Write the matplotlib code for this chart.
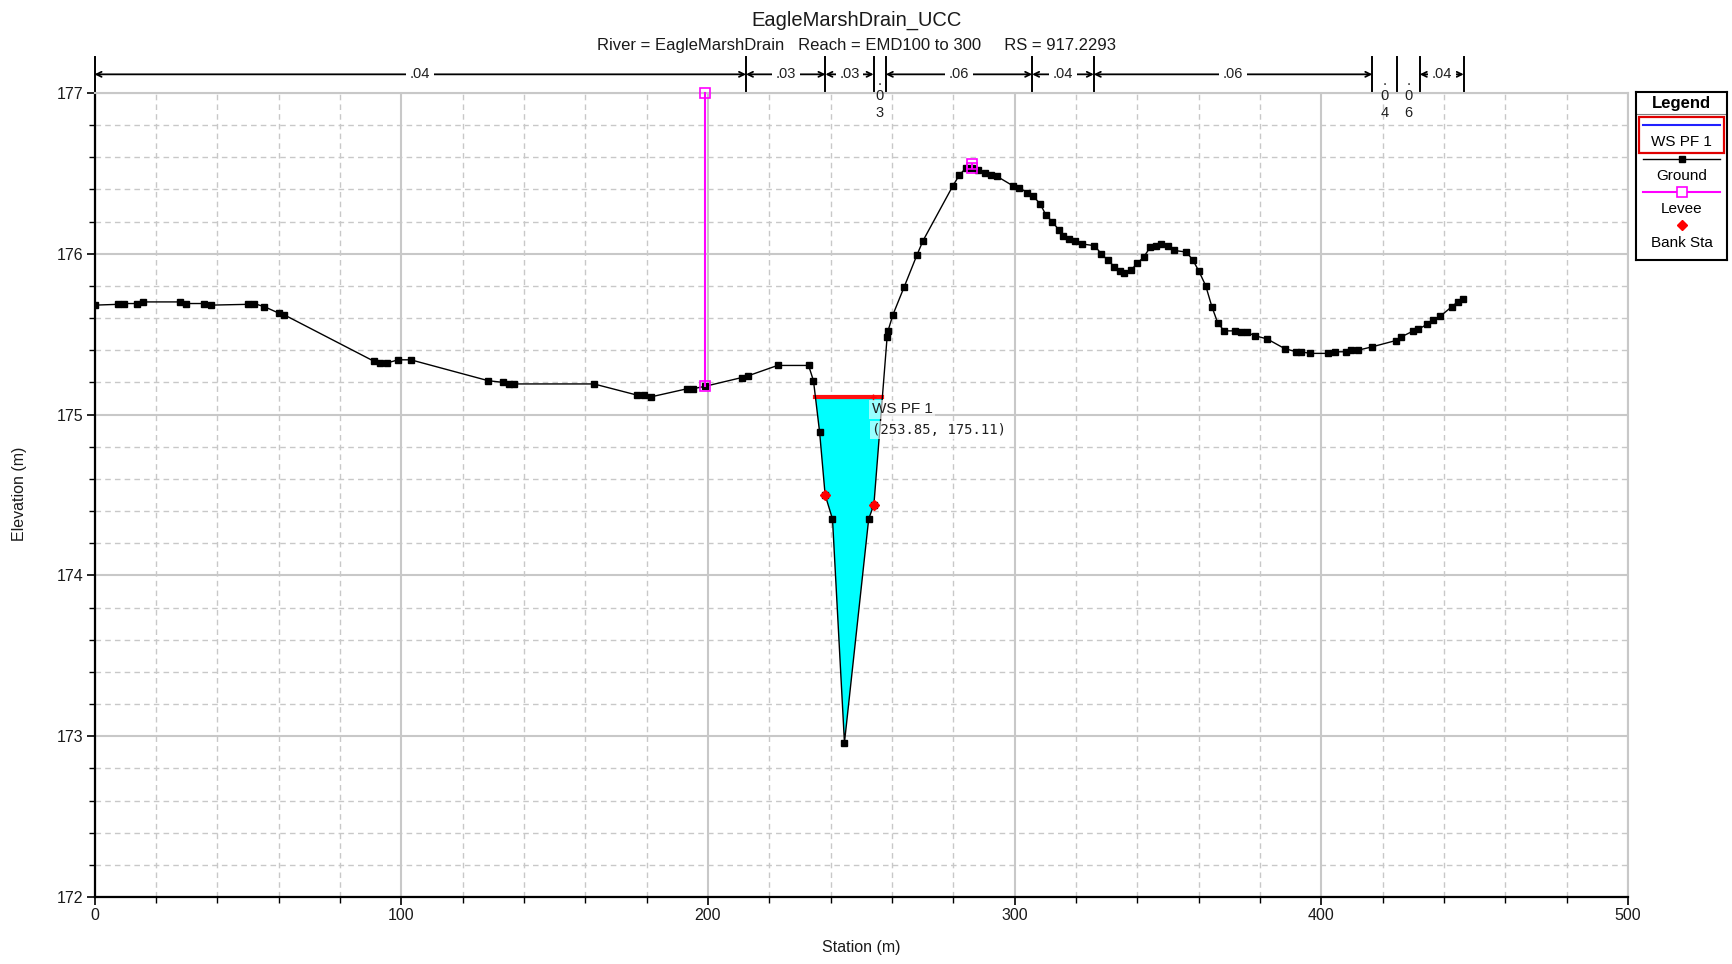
import numpy as np
import matplotlib.pyplot as plt
from matplotlib.patches import Rectangle
from matplotlib.ticker import MultipleLocator

plt.rcParams['font.family'] = ['Liberation Sans', 'DejaVu Sans']

# cross section at RS 917.2293
ground_sta = [0.0, 7.7, 9.5, 13.8, 15.8, 27.7, 29.7, 35.8, 37.8, 50.0, 52.0, 55.4,
              60.1, 61.8, 91.2, 93.2, 95.3, 99.0, 103.1, 128.4, 133.1, 135.1, 136.9,
              162.8, 177.0, 179.0, 181.5, 193.2, 195.0, 199.0, 211.1, 213.0, 222.7,
              232.8, 234.4, 236.4, 238.2, 240.6, 244.5, 252.4, 254.1, 258.4, 258.7,
              260.3, 263.9, 268.1, 270.1, 279.8, 282.0, 284.0, 286.1, 288.0, 290.2,
              292.3, 294.3, 299.6, 301.5, 304.0, 305.9, 308.3, 310.2, 312.2, 314.3,
              315.9, 317.8, 319.8, 322.0, 326.0, 328.2, 330.3, 332.5, 334.2, 335.8,
              338.0, 340.0, 342.1, 344.2, 346.2, 347.8, 350.0, 352.0, 356.0, 358.1,
              360.1, 362.3, 364.3, 366.2, 368.3, 371.8, 373.8, 375.8, 378.3, 382.3,
              388.0, 391.8, 393.5, 396.2, 402.2, 404.4, 407.9, 409.8, 412.0, 416.4,
              424.3, 425.8, 430.0, 431.6, 434.4, 436.5, 438.7, 442.5, 444.4, 446.3]
ground_elev = [175.68, 175.685, 175.69, 175.69, 175.70, 175.70, 175.69, 175.69, 175.68,
               175.685, 175.69, 175.67, 175.63, 175.62, 175.33, 175.32, 175.32, 175.34,
               175.34, 175.21, 175.20, 175.19, 175.19, 175.19, 175.12, 175.12, 175.11,
               175.16, 175.16, 175.175, 175.23, 175.24, 175.305, 175.305, 175.21,
               174.89, 174.50, 174.35, 172.96, 174.35, 174.44, 175.48, 175.52, 175.62,
               175.79, 175.99, 176.08, 176.42, 176.49, 176.53, 176.53, 176.52, 176.50,
               176.49, 176.48, 176.42, 176.41, 176.38, 176.36, 176.31, 176.24, 176.20,
               176.15, 176.11, 176.09, 176.08, 176.06, 176.05, 176.00, 175.96, 175.92,
               175.89, 175.88, 175.90, 175.94, 175.98, 176.04, 176.05, 176.06, 176.05,
               176.02, 176.01, 175.96, 175.89, 175.80, 175.67, 175.57, 175.52, 175.52,
               175.51, 175.51, 175.49, 175.47, 175.41, 175.39, 175.39, 175.38, 175.38,
               175.39, 175.39, 175.40, 175.40, 175.42, 175.46, 175.48, 175.52, 175.53,
               175.56, 175.59, 175.61, 175.67, 175.70, 175.72]
bank_sta = [238.2, 254.1]
levee_sta = [199.0, 286.1]
levee_elev = [177.0, 176.56]
ws_elev = 175.11
probe = (253.85, 175.11)

# manning's n regions
n_breaks = [0.0, 212.4, 238.3, 254.0, 258.0, 305.7, 325.8, 416.6, 424.8, 432.1, 446.4]
n_values = ['.04', '.03', '.03', '.03', '.06', '.04', '.06', '.04', '.06', '.04']

title = 'EagleMarshDrain_UCC'
subtitle = 'River = EagleMarshDrain   Reach = EMD100 to 300     RS = 917.2293'

sta = np.array(ground_sta)
elev = np.array(ground_elev)


def water_edges(sta, elev, ws):
    "Walk out from the thalweg until the ground gets above the water surface."
    i0 = int(np.argmin(elev))
    i = i0
    while elev[i] < ws:
        i -= 1
    left = sta[i] + (ws - elev[i]) * (sta[i + 1] - sta[i]) / (elev[i + 1] - elev[i])
    j = i0
    while elev[j] < ws:
        j += 1
    right = sta[j - 1] + (ws - elev[j - 1]) * (sta[j] - sta[j - 1]) / (elev[j] - elev[j - 1])
    return left, right, i, j


fig = plt.figure(figsize=(17.32, 9.64), dpi=100)
ax = fig.add_axes([0.0546, 0.0695, 0.8854, 0.8342])

ax.set_xlim(0, 500)
ax.set_ylim(172, 177)
ax.xaxis.set_major_locator(MultipleLocator(100))
ax.xaxis.set_minor_locator(MultipleLocator(20))
ax.yaxis.set_major_locator(MultipleLocator(1))
ax.yaxis.set_minor_locator(MultipleLocator(0.2))
ax.grid(which='major', color='#c8c8c8', lw=1.5, ls='-', zorder=0)
ax.grid(which='minor', color='#c8c8c8', lw=1.0, ls=(0, (4, 3)), zorder=0)
ax.set_axisbelow(True)
ax.tick_params(which='major', direction='out', length=6, width=1.2, pad=2,
               labelsize=11.5, labelcolor='#1a1a1a')
ax.tick_params(which='minor', direction='out', length=4, width=1.0)
for s in ['top', 'right']:
    ax.spines[s].set_color('#c8c8c8')
    ax.spines[s].set_linewidth(1.5)
for s in ['left', 'bottom']:
    ax.spines[s].set_color('black')
    ax.spines[s].set_linewidth(1.6)

# water in the channel
left, right, i, j = water_edges(sta, elev, ws_elev)
poly_x = [left] + list(sta[i + 1:j]) + [right]
poly_y = [ws_elev] + list(elev[i + 1:j]) + [ws_elev]
ax.fill(poly_x, poly_y, color='#00ffff', zorder=2, lw=0)
ax.plot([left, right], [ws_elev, ws_elev], color='#ff1010', lw=3, zorder=3)

# ground
ax.plot(sta, elev, color='black', lw=1.0, marker='s', ms=4.8, zorder=4)

# levees
for ls_, le_ in zip(levee_sta, levee_elev):
    g = np.interp(ls_, sta, elev)
    ax.plot([ls_, ls_], [g, le_], color='#ff00ff', lw=1.5, marker='s', ms=6.5,
            mfc='none', mec='#ff00ff', mew=1.2, zorder=5, clip_on=False)

# bank stations
ax.plot(bank_sta, np.interp(bank_sta, sta, elev), ls='none', marker='D', ms=5.5,
        color='#ff0000', zorder=6)

# hover readout
ax.plot([probe[0]], [probe[1]], marker='+', ms=5, color='#ff0000', zorder=7)
ax.annotate('WS PF 1', xy=probe, xytext=(-1, -4), textcoords='offset points',
            ha='left', va='top', fontsize=11, color='#202020', zorder=8,
            bbox=dict(boxstyle='square,pad=0.15', fc='white', ec='none', alpha=0.6))
ax.annotate('(%.2f, %.2f)' % probe, xy=probe, xytext=(-1, -19), textcoords='offset points',
            ha='left', va='top', fontsize=10, family='DejaVu Sans Mono', color='#202020',
            zorder=8, bbox=dict(boxstyle='square,pad=0.15', fc='white', ec='none', alpha=0.6))

# manning's n bar above the plot
trans = ax.get_xaxis_transform()
y_line = 1.023
for b in n_breaks:
    ax.plot([b, b], [1.0, 1.0445], transform=trans, color='black', lw=1.4, clip_on=False)
for x0, x1, n in zip(n_breaks[:-1], n_breaks[1:], n_values):
    mid = (x0 + x1) / 2
    if x1 - x0 < 10:
        for ch, yy in zip(n, [1.015, 0.996, 0.975]):
            ax.text(mid, yy, ch, transform=trans, ha='center', va='center',
                    fontsize=10.5, color='#202020')
        continue
    ax.annotate('', xy=(x1, y_line), xytext=(x0, y_line), xycoords=trans,
                textcoords=trans, annotation_clip=False,
                arrowprops=dict(arrowstyle='<->', lw=1.3, color='black',
                                shrinkA=0, shrinkB=0, mutation_scale=9))
    ax.text(mid, y_line, n, transform=trans, ha='center', va='center', fontsize=10.5,
            color='#202020', bbox=dict(boxstyle='square,pad=0.25', fc='white', ec='none'))

fig.text(0.4948, 0.979, title, ha='center', va='center', fontsize=14.5, color='#1a1a1a')
fig.text(0.4948, 0.953, subtitle, ha='center', va='center', fontsize=12, color='#1a1a1a')
fig.text(0.4972, 0.0166, 'Station (m)', ha='center', va='center', fontsize=11.5,
         color='#1a1a1a')
fig.text(0.0115, 0.4876, 'Elevation (m)', ha='center', va='center', rotation=90,
         fontsize=11.5, color='#1a1a1a')

# legend panel
lg = fig.add_axes([1636 / 1732, 1 - 260 / 964, 91 / 1732, 168 / 964])
lg.set_xlim(0, 1)
lg.set_ylim(0, 1)
lg.set_xticks([])
lg.set_yticks([])
for s in lg.spines.values():
    s.set_linewidth(1.5)
lg.text(0.5, 0.93, 'Legend', ha='center', va='center', fontsize=12, fontweight='bold')
lg.plot([0, 1], [0.87, 0.87], color='#808080', lw=0.8)
lg.add_patch(Rectangle((0.03, 0.635), 0.94, 0.215, fill=False, ec='#e00000', lw=1.6))
lg.plot([0.08, 0.92], [0.805, 0.805], color='#2020ff', lw=1.5)
lg.text(0.5, 0.703, 'WS PF 1', ha='center', va='center', fontsize=11)
lg.plot([0.08, 0.92], [0.601, 0.601], color='black', lw=1.0)
lg.plot([0.5], [0.601], marker='s', ms=4.8, color='black')
lg.text(0.5, 0.5, 'Ground', ha='center', va='center', fontsize=11)
lg.plot([0.08, 0.92], [0.403, 0.403], color='#ff00ff', lw=1.5)
lg.plot([0.5], [0.403], marker='s', ms=6.5, mfc='white', mec='#ff00ff', mew=1.2)
lg.text(0.5, 0.305, 'Levee', ha='center', va='center', fontsize=11)
lg.plot([0.5], [0.207], marker='D', ms=5.5, color='#ff0000')
lg.text(0.5, 0.1, 'Bank Sta', ha='center', va='center', fontsize=11)

fig.savefig('out.png', dpi=100)
